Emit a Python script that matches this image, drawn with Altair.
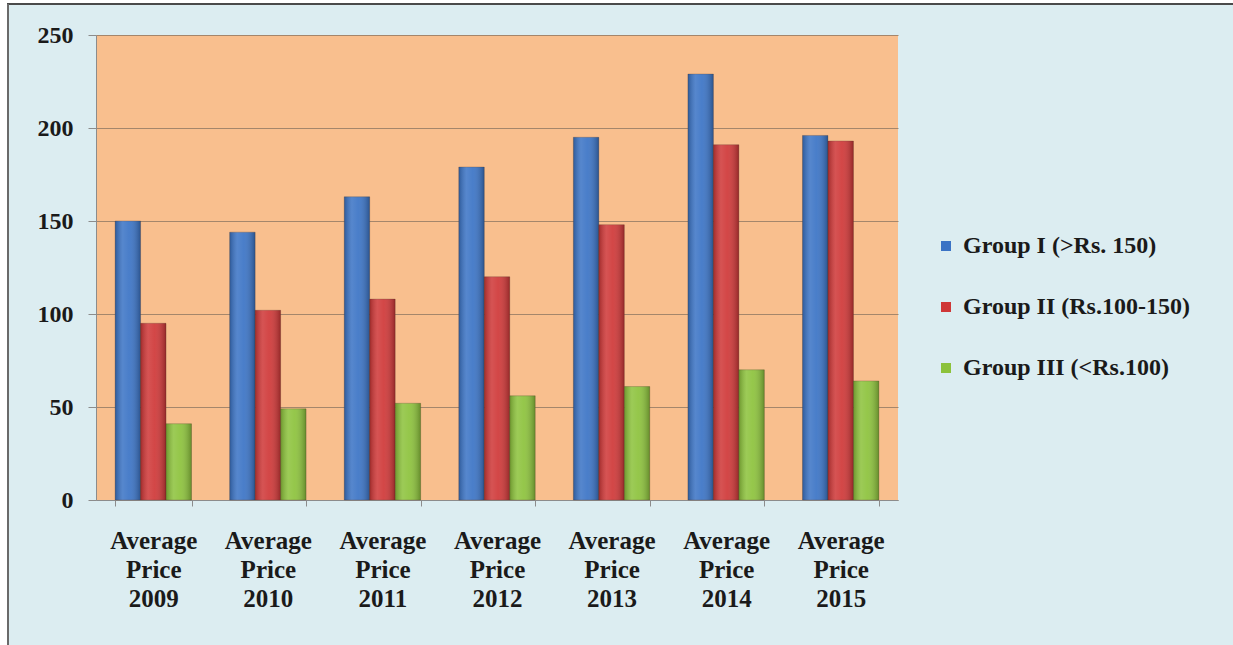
import altair as alt
import pandas as pd

# Categories along the x axis (each label is split into three lines on spaces)
categories = [
    "Average Price 2009",
    "Average Price 2010",
    "Average Price 2011",
    "Average Price 2012",
    "Average Price 2013",
    "Average Price 2014",
    "Average Price 2015",
]

# Price groups (series)
groups = [
    "Group I  (>Rs. 150)",
    "Group II (Rs.100-150)",
    "Group III (<Rs.100)",
]

# Average price per group, one value per year
group_1_values = [150, 144, 163, 179, 195, 229, 196]
group_2_values = [95, 102, 108, 120, 148, 191, 193]
group_3_values = [41, 49, 52, 56, 61, 70, 64]

series_colors = ["#3a73c5", "#cf3737", "#8cc23b"]
y_ticks = [0, 50, 100, 150, 200, 250]

rows = []
for g, vals in zip(groups, [group_1_values, group_2_values, group_3_values]):
    for c, v in zip(categories, vals):
        rows.append({"category": c, "group": g, "value": v})
df = pd.DataFrame(rows)

FONT = "Liberation Serif, Times New Roman, serif"

x_enc = alt.X(
    "category:N",
    sort=categories,
    scale=alt.Scale(paddingInner=0.333, paddingOuter=0.1667),
    axis=alt.Axis(
        title=None,
        labelAngle=0,
        labelExpr="split(datum.label, ' ')",
        labelFont=FONT,
        labelFontWeight="bold",
        labelFontSize=25,
        labelColor="#1a1a1a",
        labelLineHeight=29,
        labelPadding=22,
        labelBaseline="top",
        tickBand="extent",
        tickSize=6,
        tickColor="#8c8c8c",
        domainColor="#8c8c8c",
        grid=False,
    ),
)
xoff_enc = alt.XOffset("group:N", sort=groups, scale=alt.Scale(domain=groups, paddingInner=0, paddingOuter=0))
y_enc = alt.Y(
    "value:Q",
    scale=alt.Scale(domain=[0, 250], nice=False),
    axis=alt.Axis(
        title=None,
        values=y_ticks,
        labelFont=FONT,
        labelFontWeight="bold",
        labelFontSize=24,
        labelColor="#1a1a1a",
        labelPadding=15,
        tickSize=8,
        tickColor="#8c8c8c",
        domainColor="#8c8c8c",
        grid=True,
        gridColor="#a5866b",
        gridWidth=1,
    ),
)

bars = alt.Chart(df).mark_bar(stroke="#5a4030", strokeWidth=0.6, strokeOpacity=0.5).encode(
    x=x_enc,
    xOffset=xoff_enc,
    y=y_enc,
    color=alt.Color(
        "group:N",
        sort=groups,
        scale=alt.Scale(domain=groups, range=series_colors),
        legend=alt.Legend(
            title=None,
            orient="none",
            legendX=838,
            legendY=199,
            symbolType="square",
            symbolSize=100,
            symbolStrokeWidth=0,
            labelFont=FONT,
            labelFontWeight="bold",
            labelFontSize=24,
            labelColor="#1a1a1a",
            labelOffset=5,
            rowPadding=37,
            labelLimit=400,
        ),
    ),
)

# Cylinder-like shading laid over each bar
shade = alt.LinearGradient(
    gradient="linear",
    x1=0, x2=1, y1=0, y2=0,
    stops=[
        alt.GradientStop(color="rgba(0,0,0,0.22)", offset=0),
        alt.GradientStop(color="rgba(255,255,255,0.14)", offset=0.3),
        alt.GradientStop(color="rgba(255,255,255,0.08)", offset=0.55),
        alt.GradientStop(color="rgba(0,0,0,0.28)", offset=1),
    ],
)
shading = alt.Chart(df).mark_bar(color=shade).encode(x=x_enc, xOffset=xoff_enc, y=y_enc)

# Outer frame of the chart area
frame_white_top = alt.Chart(df).mark_rule(color="white", strokeWidth=4).encode(
    x=alt.value(-96), x2=alt.value(1137), y=alt.value(-33)
)
frame_white_left = alt.Chart(df).mark_rule(color="white", strokeWidth=7).encode(
    x=alt.value(-92.5), y=alt.value(-35), y2=alt.value(610)
)
frame_top = alt.Chart(df).mark_rule(color="#4a4a4a", strokeWidth=2).encode(
    x=alt.value(-89), x2=alt.value(1137), y=alt.value(-31)
)
frame_left = alt.Chart(df).mark_rule(color="#6a6a6a", strokeWidth=2).encode(
    x=alt.value(-88), y=alt.value(-31), y2=alt.value(610)
)

chart = alt.layer(
    bars, shading, frame_white_top, frame_white_left, frame_top, frame_left
).properties(
    width=802,
    height=465,
    autosize=alt.AutoSizeParams(type="none"),
    padding={"left": 96, "top": 35, "right": 335, "bottom": 145},
    background="#dcedf1",
).configure_view(
    fill="#f9bf8e",
    stroke=None,
)

chart.save("out.html", embed_options={"renderer": "svg", "actions": False})
